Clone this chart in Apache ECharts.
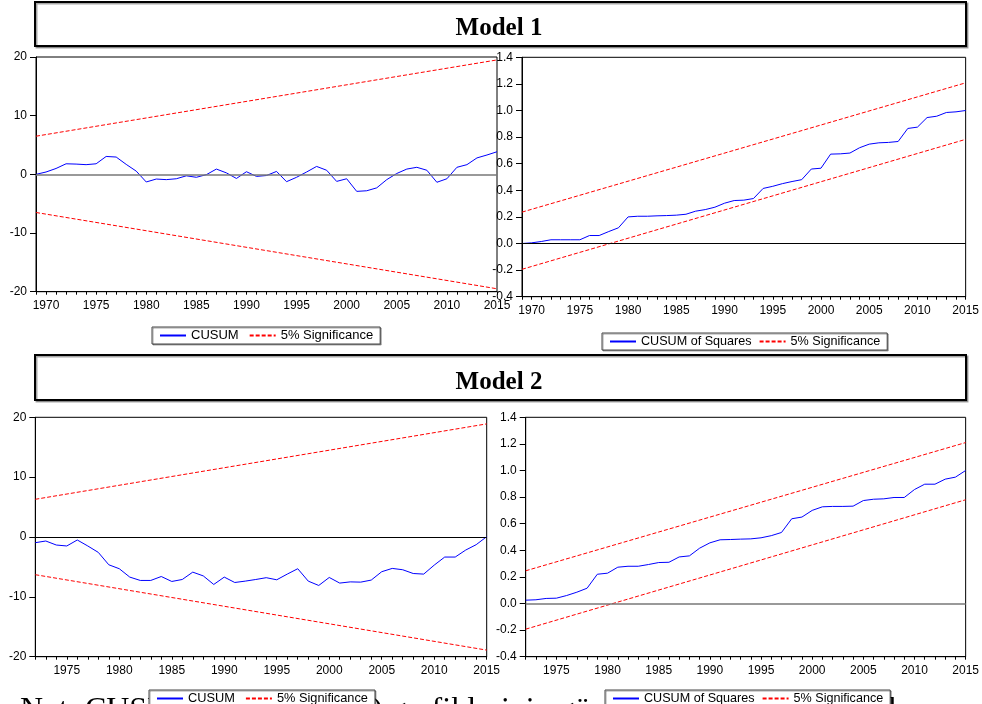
<!DOCTYPE html>
<html>
<head>
<meta charset="utf-8">
<script src="https://cdn.jsdelivr.net/npm/echarts@6/dist/echarts.min.js"></script>
<style>
  html, body { margin: 0; padding: 0; background: #fff; }
  #chart { width: 982px; height: 704px; }
</style>
</head>
<body>
<div id="chart"></div>
<script>
  // years on the x axis
  function yearRange(a, b) {
    let out = [];
    for (let y = a; y <= b; y++) out.push(String(y));
    return out;
  }
  const years1 = yearRange(1969, 2015);
  const years2 = yearRange(1972, 2015);

  // Model 1
  const cusum1 = [0, 0.4, 1.0, 1.8, 1.75, 1.65, 1.8, 3.05, 2.95, 1.7, 0.55,
    -1.3, -0.8, -0.9, -0.75, -0.25, -0.5, -0.05, 0.9, 0.25, -0.7,
    0.45, -0.35, -0.2, 0.5, -1.25, -0.5, 0.4, 1.35, 0.7, -1.2,
    -0.75, -2.9, -2.8, -2.3, -0.9, 0.15, 0.9, 1.2, 0.7, -1.35,
    -0.75, 1.2, 1.65, 2.8, 3.3, 3.85];
  const cusum1Upper = [['1969', 6.5], ['2015', 19.5]];
  const cusum1Lower = [['1969', -6.5], ['2015', -19.5]];

  const cusumsq1 = [0, 0.005, 0.015, 0.028, 0.028, 0.028, 0.028, 0.06, 0.06, 0.09, 0.118,
    0.2, 0.205, 0.205, 0.208, 0.21, 0.213, 0.22, 0.243, 0.255, 0.273,
    0.303, 0.323, 0.326, 0.338, 0.414, 0.43, 0.45, 0.466, 0.48, 0.56,
    0.566, 0.672, 0.674, 0.68, 0.72, 0.747, 0.757, 0.76, 0.767, 0.865,
    0.875, 0.947, 0.957, 0.985, 0.99, 1.0];
  const cusumsq1Upper = [['1969', 0.236], ['2015', 1.208]];
  const cusumsq1Lower = [['1969', -0.194], ['2015', 0.783]];

  // Model 2
  const cusum2 = [-0.95, -0.67, -1.34, -1.5, -0.5, -1.5, -2.57, -4.64,
    -5.3, -6.7, -7.26, -7.26, -6.6, -7.43, -7.1, -5.87, -6.5, -7.93,
    -6.7, -7.6, -7.37, -7.1, -6.8, -7.15, -6.2, -5.3, -7.37, -8.1,
    -6.76, -7.7, -7.5, -7.54, -7.2, -5.8, -5.25, -5.47, -6.1, -6.2,
    -4.7, -3.35, -3.35, -2.18, -1.28, 0.05];
  const cusum2Upper = [['1972', 6.3], ['2015', 18.9]];
  const cusum2Lower = [['1972', -6.3], ['2015', -18.9]];

  const cusumsq2 = [0.025, 0.028, 0.038, 0.04, 0.06, 0.085, 0.115, 0.22,
    0.228, 0.273, 0.28, 0.28, 0.293, 0.308, 0.31, 0.35, 0.358, 0.416,
    0.456, 0.479, 0.481, 0.484, 0.486, 0.494, 0.51, 0.534, 0.637, 0.65,
    0.70, 0.727, 0.73, 0.73, 0.732, 0.774, 0.784, 0.787, 0.797, 0.797,
    0.857, 0.897, 0.897, 0.935, 0.95, 1.0];
  const cusumsq2Upper = [['1972', 0.246], ['2015', 1.21]];
  const cusumsq2Lower = [['1972', -0.193], ['2015', 0.78]];

  const SANS = '"Liberation Sans", Arial, sans-serif';
  const SERIF = '"Liberation Serif", "Times New Roman", serif';

  function xAxisOf(idx, years) {
    return {
      type: 'category', gridIndex: idx, data: years, boundaryGap: false,
      axisLine: { onZero: false, lineStyle: { color: '#000', width: 1 } },
      axisTick: { show: true, interval: 0, length: 3, lineStyle: { color: '#000' } },
      axisLabel: {
        interval: function (i, v) { return Number(v) % 5 === 0; },
        color: '#000', fontFamily: SANS, fontSize: 12, margin: 8
      },
      splitLine: { show: false }
    };
  }
  function yAxisOf(idx, min, max, step, digits) {
    return {
      type: 'value', gridIndex: idx, min: min, max: max, interval: step,
      axisLine: { show: true, onZero: false, lineStyle: { color: '#000', width: 1 } },
      axisTick: { show: true, length: 6, lineStyle: { color: '#000' } },
      axisLabel: {
        color: '#000', fontFamily: SANS, fontSize: 12, margin: 9,
        formatter: function (v) { return digits ? v.toFixed(digits) : String(v); }
      },
      splitLine: { show: false }
    };
  }
  function mainSeries(name, idx, data, zeroColor, zeroWidth) {
    return {
      name: name, type: 'line', xAxisIndex: idx, yAxisIndex: idx, data: data,
      symbol: 'none', lineStyle: { color: '#0000ff', width: 1 }, itemStyle: { color: '#0000ff' },
      z: 3,
      markLine: {
        silent: true, symbol: ['none', 'none'], label: { show: false },
        lineStyle: { color: zeroColor, width: zeroWidth, type: 'solid' },
        data: [{ yAxis: 0 }]
      }
    };
  }
  function boundSeries(idx, data) {
    return {
      name: '5% Significance', type: 'line', xAxisIndex: idx, yAxisIndex: idx, data: data,
      symbol: 'none', lineStyle: { color: '#ff0000', width: 1, type: [4, 2] },
      itemStyle: { color: '#ff0000' }, z: 2
    };
  }
  function legendOf(names, left, top, gap, size) {
    return {
      data: names, left: left, top: top, orient: 'horizontal',
      itemWidth: 26, itemHeight: 10, itemGap: gap,
      padding: [2, 7, 2, 7],
      itemStyle: { opacity: 0 },
      backgroundColor: '#fff', borderColor: '#444', borderWidth: 1,
      shadowColor: 'rgba(0,0,0,0.35)', shadowOffsetX: 1, shadowOffsetY: 1, shadowBlur: 0,
      textStyle: { color: '#000', fontFamily: SANS, fontSize: size },
      selectedMode: false, z: 20
    };
  }
  function titleBox(y, h, label) {
    return [
      {
        type: 'rect', shape: { x: 35, y: y, width: 931, height: h },
        style: { fill: '#fff', stroke: '#000', lineWidth: 2,
          shadowColor: 'rgba(0,0,0,0.35)', shadowOffsetX: 1.5, shadowOffsetY: 1.5 },
        z: 1
      },
      {
        type: 'text', x: 499, y: y + h / 2 + 5,
        style: { text: label, fill: '#000', font: 'bold 25px ' + SERIF,
          textAlign: 'center', textVerticalAlign: 'middle' },
        z: 2
      }
    ];
  }

  const chart = echarts.init(document.getElementById('chart'), null, { renderer: 'canvas' });
  const option = {
    animation: false,
    backgroundColor: '#fff',
    grid: [
      { left: 36, top: 57, width: 461, height: 234.7, show: true, borderColor: '#000', borderWidth: 1, z: 1 },
      { left: 522, top: 57.3, width: 445, height: 239.4, show: true, borderColor: '#000', borderWidth: 1, z: 1 },
      { left: 35.3, top: 417.3, width: 451.4, height: 239.4, show: true, borderColor: '#000', borderWidth: 1, z: 1 },
      { left: 525.7, top: 417.3, width: 441.6, height: 239.4, show: true, borderColor: '#000', borderWidth: 1, z: 1 }
    ],
    xAxis: [xAxisOf(0, years1), xAxisOf(1, years1), xAxisOf(2, years2), xAxisOf(3, years2)],
    yAxis: [
      yAxisOf(0, -20, 20, 10, 0),
      yAxisOf(1, -0.4, 1.4, 0.2, 1),
      yAxisOf(2, -20, 20, 10, 0),
      yAxisOf(3, -0.4, 1.4, 0.2, 1)
    ],
    legend: [
      legendOf(['CUSUM', '5% Significance'], 152, 327, 10, 13),
      legendOf(['CUSUM of Squares', '5% Significance'], 602, 333, 7, 12.6),
      legendOf(['CUSUM', '5% Significance'], 149, 690, 10, 12.8),
      legendOf(['CUSUM of Squares', '5% Significance'], 605, 690, 7, 12.6)
    ],
    graphic: [].concat(
      titleBox(2, 44, 'Model 1'),
      titleBox(355, 45, 'Model 2'),
      [
        {
          type: 'text', x: 20, y: 711, z: 0,
          style: { text: 'Not: CUSUM (CUSUMSQ) grafiklerinin güven sınırları içinde ka',
            fill: '#000', font: '32px ' + SERIF, textVerticalAlign: 'middle' }
        },
        {
          type: 'text', x: 888, y: 711, z: 0,
          style: { text: 'lması', fill: '#000', font: '32px ' + SERIF, textVerticalAlign: 'middle' }
        }
      ]
    ),
    series: [
      mainSeries('CUSUM', 0, cusum1, '#777', 1.5),
      boundSeries(0, cusum1Upper),
      boundSeries(0, cusum1Lower),
      mainSeries('CUSUM of Squares', 1, cusumsq1, '#000', 1),
      boundSeries(1, cusumsq1Upper),
      boundSeries(1, cusumsq1Lower),
      mainSeries('CUSUM', 2, cusum2, '#000', 1),
      boundSeries(2, cusum2Upper),
      boundSeries(2, cusum2Lower),
      mainSeries('CUSUM of Squares', 3, cusumsq2, '#777', 1.5),
      boundSeries(3, cusumsq2Upper),
      boundSeries(3, cusumsq2Lower)
    ]
  };
  chart.setOption(option);
</script>
</body>
</html>
